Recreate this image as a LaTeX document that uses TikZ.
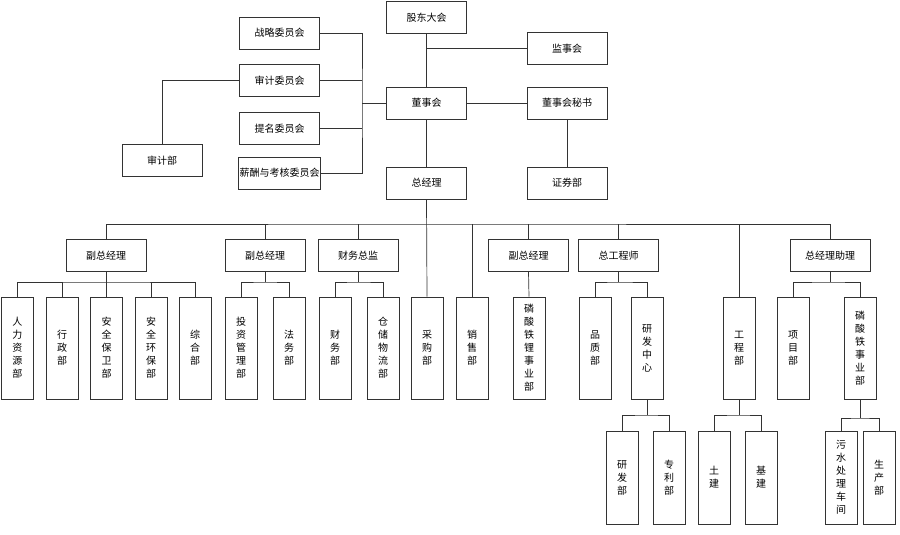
\documentclass[tikz,border=0pt]{standalone}
\usepackage{fontspec}
\setmainfont{Noto Sans CJK SC}
\usetikzlibrary{calc,positioning}

\tikzset{
  box/.style={draw=black!80, line width=0.7pt, minimum width=80pt, minimum height=32pt, inner sep=1pt, font=\fontsize{10}{13}\selectfont},
  col/.style={draw=black!80, line width=0.7pt, minimum width=32pt, minimum height=102pt, inner sep=1pt, align=center, font=\fontsize{10}{13}\selectfont},
  colb/.style={col, minimum height=93pt},
  wire/.style={draw=black!80, line width=0.7pt},
}

\begin{document}
\begin{tikzpicture}[x=1pt,y=-1pt]

\useasboundingbox (0,0) rectangle (900,535);

% top level
\node[box] (gd)  at (426.5,17.5) {股东大会};
\node[box] (jsh) at (567,48.5) {监事会};
\node[box] (dsh) at (426.5,103) {董事会};
\node[box] (dms) at (567,103) {董事会秘书};
\node[box] (zjl) at (426.5,183) {总经理};
\node[box] (zqb) at (567,183) {证券部};

% committees
\node[box] (zlwy) at (279.5,33) {战略委员会};
\node[box] (sjwy) at (279.5,80.5) {审计委员会};
\node[box] (tmwy) at (279.5,128.5) {提名委员会};
\node[box] (xcwy) at (279.5,173) {薪酬与考核委员会};
\node[box] (sjb)  at (162,160.5) {审计部};

% second level
\node[box] (fz1)   at (106,255.5) {副总经理};
\node[box] (fz2)   at (265,255.5) {副总经理};
\node[box] (cwzj)  at (358,255.5) {财务总监};
\node[box] (fz3)   at (528.5,255.5) {副总经理};
\node[box] (zgcs)  at (618.5,255.5) {总工程师};
\node[box] (zjlzl) at (830,255.5) {总经理助理};

% departments
\node[col] (rlzy) at (17.5,348) {人\\力\\资\\源\\部};
\node[col] (xz)   at (62,348) {行\\政\\部};
\node[col] (aqbw) at (106.5,348) {安\\全\\保\\卫\\部};
\node[col] (aqhb) at (151,348) {安\\全\\环\\保\\部};
\node[col] (zhb)  at (195,348) {综\\合\\部};
\node[col] (tzgl) at (241,348) {投\\资\\管\\理\\部};
\node[col] (fwb)  at (289,348) {法\\务\\部};
\node[col] (cwb)  at (335,348) {财\\务\\部};
\node[col] (ccwl) at (383,348) {仓\\储\\物\\流\\部};
\node[col] (cgb)  at (427,348) {采\\购\\部};
\node[col] (xsb)  at (472,348) {销\\售\\部};
\node[col] (lstl) at (529,348) {磷\\酸\\铁\\锂\\事\\业\\部};
\node[col] (pzb)  at (595,348) {品\\质\\部};
\node[col] (yfzx) at (647,348) {研\\发\\中\\心};
\node[col] (gcb)  at (739,348) {工\\程\\部};
\node[col] (xmb)  at (793,348) {项\\目\\部};
\node[col] (lst)  at (860,348) {磷\\酸\\铁\\事\\业\\部};

% third level
\node[colb] (yfb)  at (622,477.5) {研\\发\\部};
\node[colb] (zlb)  at (669,477.5) {专\\利\\部};
\node[colb] (tj)   at (714,477.5) {土\\建};
\node[colb] (jj)   at (761,477.5) {基\\建};
\node[colb] (wscj) at (841,477.5) {污\\水\\处\\理\\车\\间};
\node[colb] (scb)  at (879,477.5) {生\\产\\部};

% bus points
\coordinate (cbus) at (362,103);
\coordinate (bus)  at (426.5,224);
\coordinate (b1) at (106,282);
\coordinate (b2) at (265,282);
\coordinate (b3) at (358,282);
\coordinate (b4) at (618.5,282);
\coordinate (b5) at (830,282);
\coordinate (b6) at (647,415);
\coordinate (b7) at (739,415);
\coordinate (b8) at (860,418);

% top connectors
\path[wire] (gd) -- (dsh);
\path[wire] (jsh.west) -- (jsh.west -| gd.south);
\path[wire] (dsh) -- (dms);
\path[wire] (dms) -- (zqb);
\path[wire] (dsh) -- (zjl);
\path[wire] (dsh.west) -- (cbus);
\path[wire] (zlwy.east) -| (cbus) |- (xcwy.east);
\path[wire] (sjwy.east) -- (sjwy.east -| cbus);
\path[wire] (tmwy.east) -- (tmwy.east -| cbus);
\path[wire] (sjwy.west) -| (sjb.north);

% main bus
\path[wire] (zjl.south) -- (cgb.north);
\path[wire] (fz1.north) |- (bus) -| (zjlzl.north);
\foreach \n in {fz2,cwzj,fz3,zgcs}
  \path[wire] (\n.north) -- (\n.north |- bus);
\path[wire] (xsb.north) -- (xsb.north |- bus);
\path[wire] (gcb.north) -- (gcb.north |- bus);
\path[wire] (fz3.south) -- (lstl.north);

% sub buses
\path[wire] (fz1.south) -- (b1);
\path[wire] (rlzy.north) |- (b1) -| (zhb.north);
\foreach \n in {xz,aqbw,aqhb}
  \path[wire] (\n.north) -- (\n.north |- b1);
\path[wire] (fz2.south) -- (b2);
\path[wire] (tzgl.north) |- (b2) -| (fwb.north);
\path[wire] (cwzj.south) -- (b3);
\path[wire] (cwb.north) |- (b3) -| (ccwl.north);
\path[wire] (zgcs.south) -- (b4);
\path[wire] (pzb.north) |- (b4) -| (yfzx.north);
\path[wire] (zjlzl.south) -- (b5);
\path[wire] (xmb.north) |- (b5) -| (lst.north);

\path[wire] (yfzx.south) -- (b6);
\path[wire] (yfb.north) |- (b6) -| (zlb.north);
\path[wire] (gcb.south) -- (b7);
\path[wire] (tj.north) |- (b7) -| (jj.north);
\path[wire] (lst.south) -- (b8);
\path[wire] (wscj.north) |- (b8) -| (scb.north);

\end{tikzpicture}
\end{document}
